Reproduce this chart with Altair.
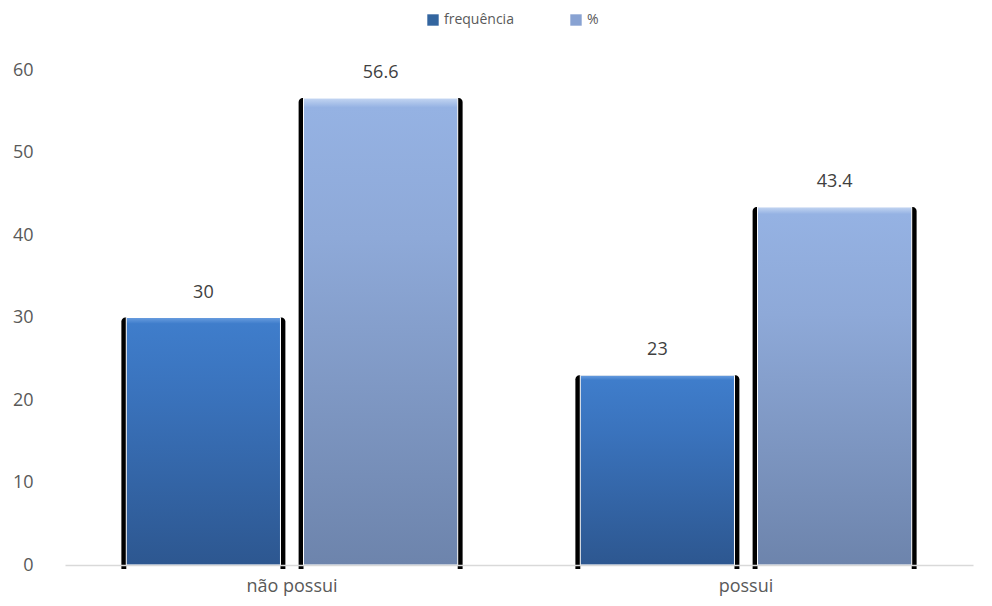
import altair as alt
import pandas as pd

categories = ["não possui", "possui"]
series = ["frequência", "%"]
frequencia = [30, 23]
percent = [56.6, 43.4]

rows = []
for i, c in enumerate(categories):
    rows.append({"cat": c, "serie": "frequência", "valor": frequencia[i], "label": f"{frequencia[i]:g}"})
    rows.append({"cat": c, "serie": "%", "valor": percent[i], "label": f"{percent[i]:g}"})
df = pd.DataFrame(rows)

FONT = "Open Sans"
TXT = "#595959"

x_enc = alt.X("cat:N", sort=categories,
              scale=alt.Scale(paddingInner=0.27, paddingOuter=0.135),
              axis=alt.Axis(title=None, labelAngle=0, ticks=False, domain=True,
                            domainColor="#d9d9d9", domainWidth=1.5, zindex=1,
                            labelFont=FONT, labelFontSize=18, labelColor=TXT,
                            labelPadding=12))
xo_enc = alt.XOffset("serie:N", scale=alt.Scale(domain=series, paddingInner=0.13, paddingOuter=0))
y_enc = alt.Y("valor:Q", scale=alt.Scale(domain=[0, 60], nice=False),
              axis=alt.Axis(title=None, values=[0, 10, 20, 30, 40, 50, 60], grid=False,
                            domain=False, ticks=False, labelFont=FONT, labelFontSize=18,
                            labelColor=TXT, labelPadding=32))

base = alt.Chart(df)

shadow = base.mark_bar(color="black", width=164, y2Offset=4,
                       cornerRadiusTopLeft=4, cornerRadiusTopRight=4).encode(
    x=x_enc, xOffset=xo_enc, y=y_enc, y2=alt.datum(0))

cover = base.mark_bar(color="white", yOffset=0, y2Offset=7).encode(
    x=x_enc, xOffset=xo_enc, y=alt.datum(0), y2=alt.datum(0))

legend_bars = base.mark_bar(opacity=0).encode(
    x=x_enc, xOffset=xo_enc, y=y_enc,
    color=alt.Color("serie:N",
                    scale=alt.Scale(domain=series, range=["#33659f", "#88a2d2"]),
                    legend=alt.Legend(title=None, orient="none", direction="horizontal",
                                      legendX=361, legendY=-57, symbolType="square",
                                      symbolSize=130, symbolStrokeWidth=0, symbolOpacity=1,
                                      labelFont=FONT, labelFontSize=14, labelColor=TXT,
                                      columnPadding=55, padding=0)))

def grad(stops):
    return alt.Gradient(gradient="linear", x1=0, y1=0, x2=0, y2=1,
                        stops=[alt.GradientStop(offset=o, color=c) for o, c in stops])

g_freq = grad([(0, "#6a9ee0"), (0.025, "#3f7dcb"), (0.3, "#3a73bd"), (1, "#2d5790")])
g_pct = grad([(0, "#c4d6f2"), (0.02, "#95b2e3"), (0.3, "#8ea9d8"), (1, "#6d84ac")])

bars_f = base.transform_filter(alt.datum.serie == "frequência").mark_bar(
    fill=g_freq, stroke="white", strokeWidth=1).encode(x=x_enc, xOffset=xo_enc, y=y_enc)
bars_p = base.transform_filter(alt.datum.serie == "%").mark_bar(
    fill=g_pct, stroke="white", strokeWidth=1).encode(x=x_enc, xOffset=xo_enc, y=y_enc)

labels = base.mark_text(dy=-25, font=FONT, fontSize=18, color="#404040").encode(
    x=x_enc, xOffset=xo_enc, y=y_enc, text="label:N")

chart = alt.layer(shadow, cover, legend_bars, bars_f, bars_p, labels).properties(
    width=908, height=495,
    background="white",
    autosize=alt.AutoSizeParams(type="none"),
    padding={"left": 65, "top": 70, "right": 19, "bottom": 41},
).configure_view(strokeWidth=0, stroke=None)

chart.save("out.html", embed_options={"renderer": "svg", "actions": False})
